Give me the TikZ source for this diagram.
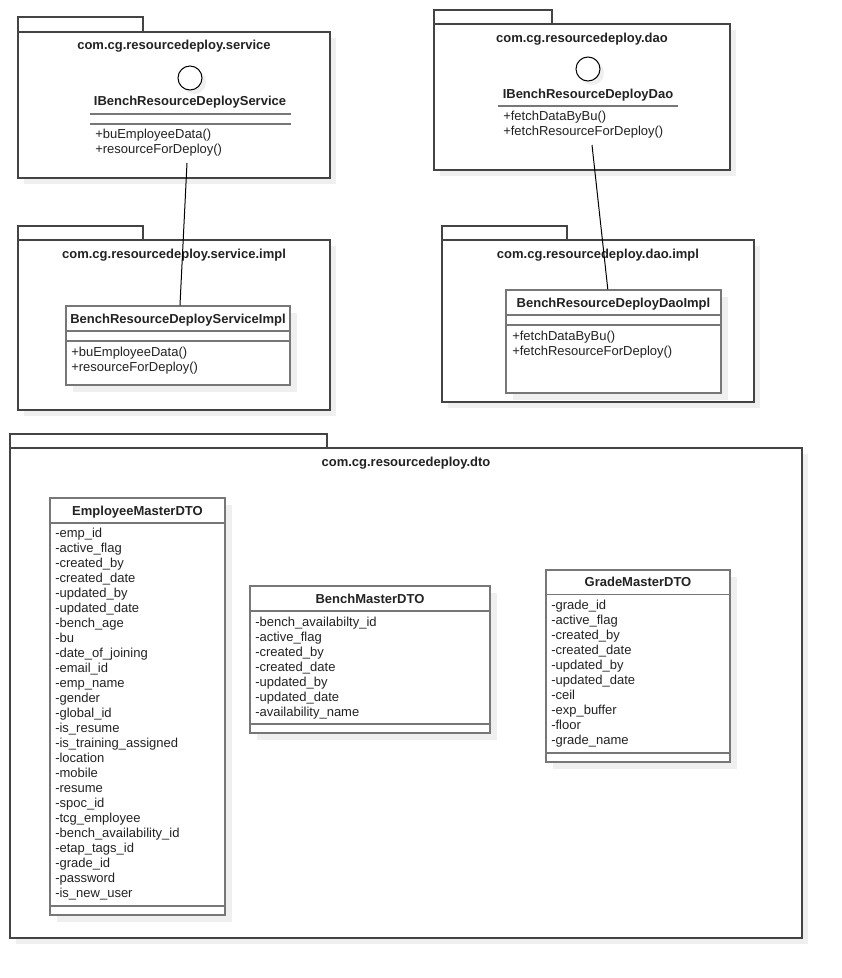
\documentclass[tikz,border=0pt]{standalone}
\usepackage{fontspec}
\setmainfont{Liberation Sans}
\usetikzlibrary{fit,shadows}

\definecolor{pkgline}{HTML}{444444}
\definecolor{clsline}{HTML}{777777}
\definecolor{shadowgray}{HTML}{EFEFEF}
\definecolor{txt}{HTML}{222222}

\newcommand{\umlfont}{\fontsize{9.75pt}{12pt}\selectfont}

\tikzset{
    boxshadow/.style={drop shadow={shadow xshift=#1, shadow yshift=-#1, fill=shadowgray, opacity=1}},
    pkgtab/.style={draw=pkgline, line width=1.1pt, fill=white, inner sep=0pt},
    pkgbody/.style={pkgtab, boxshadow=4.5pt},
    pkgname/.style={font=\umlfont\bfseries, inner sep=0pt, text height=7pt, text depth=2pt, yshift=-1.1pt},
    umlclass/.style={draw=clsline, line width=1.1pt, fill=white, inner sep=0pt, boxshadow=5pt},
    compart/.style={draw=clsline, line width=1.1pt},
    ctitle/.style={font=\umlfont\bfseries, inner sep=0pt, text height=7pt, text depth=2pt, yshift=-1.1pt},
    member/.style={anchor=west, inner sep=0pt, text height=7pt, text depth=2pt, yshift=-1.1pt},
    iface/.style={circle, draw=black, line width=0.75pt, fill=white, inner sep=0pt, minimum size=18pt, boxshadow=3pt},
    link/.style={draw=black, line width=0.75pt}
}

\begin{document}
\begin{tikzpicture}[x=0.75pt, y=-0.75pt, font=\umlfont, every node/.style={text=txt}]
    \fill[white] (0,0) rectangle (842,978);
    \useasboundingbox (0,0) rectangle (842,978);

    % service
    \node[pkgtab, fit={(18,17) (143,32)}] (svc_tab) {};
    \node[pkgbody, fit={(18,32) (330,178)}] (svc_pkg) {};
    \node[pkgname] (svc_name) at (174,45) {com.cg.resourcedeploy.service};
    \node[iface] (isvc) at (190,78) {};
    \node[ctitle] (isvc_name) at (190,101) {IBenchResourceDeployService};
    \draw[compart] (90,114) -- (291,114) (90,124) -- (291,124);
    \node[member] (isvc_m1) at (95,134) {+buEmployeeData()};
    \node[member] (isvc_m2) at (95,149) {+resourceForDeploy()};
    \coordinate (isvc_end) at (187,163);

    % service.impl
    \node[pkgtab, fit={(18,226) (143,240)}] (svci_tab) {};
    \node[pkgbody, fit={(18,240) (330,410)}] (svci_pkg) {};
    \node[pkgname] (svci_name) at (174,254) {com.cg.resourcedeploy.service.impl};
    \node[umlclass, fit={(66,306) (290,385)}] (svc_impl) {};
    \node[ctitle] (svc_impl_name) at (178,318.5) {BenchResourceDeployServiceImpl};
    \draw[compart] (66,331) -- (290,331) (66,341) -- (290,341);
    \node[member] (svc_impl_m1) at (71,352) {+buEmployeeData()};
    \node[member] (svc_impl_m2) at (71,367) {+resourceForDeploy()};

    % dao
    \node[pkgtab, fit={(434,10) (552,24)}] (dao_tab) {};
    \node[pkgbody, fit={(434,24) (730,170)}] (dao_pkg) {};
    \node[pkgname] (dao_name) at (582,38) {com.cg.resourcedeploy.dao};
    \node[iface] (idao) at (588,69) {};
    \node[ctitle] (idao_name) at (588,94) {IBenchResourceDeployDao};
    \draw[compart] (498,106) -- (678,106);
    \node[member] (idao_m1) at (503,116) {+fetchDataByBu()};
    \node[member] (idao_m2) at (503,131) {+fetchResourceForDeploy()};
    \coordinate (idao_end) at (592,145);

    % dao.impl
    \node[pkgtab, fit={(442,226) (567,240)}] (daoi_tab) {};
    \node[pkgbody, fit={(442,240) (754,402)}] (daoi_pkg) {};
    \node[pkgname] (daoi_name) at (598,254) {com.cg.resourcedeploy.dao.impl};
    \node[umlclass, fit={(506,290) (721,393)}] (dao_impl) {};
    \node[ctitle] (dao_impl_name) at (613.5,302.5) {BenchResourceDeployDaoImpl};
    \draw[compart] (506,315) -- (721,315) (506,325) -- (721,325);
    \node[member] (dao_impl_m1) at (512,336) {+fetchDataByBu()};
    \node[member] (dao_impl_m2) at (512,351) {+fetchResourceForDeploy()};

    % dto
    \node[pkgtab, fit={(10,434) (327,448)}] (dto_tab) {};
    \node[pkgbody, fit={(10,448) (802,938)}] (dto_pkg) {};
    \node[pkgname] (dto_name) at (406,462) {com.cg.resourcedeploy.dto};

    \node[umlclass, fit={(50,498) (225,915)}] (emp_dto) {};
    \node[ctitle] (emp_dto_name) at (137.5,510.5) {EmployeeMasterDTO};
    \draw[compart] (50,523) -- (225,523) (50,906) -- (225,906);
    \foreach \f [count=\i from 0] in {emp\_id, active\_flag, created\_by, created\_date,
            updated\_by, updated\_date, bench\_age, bu, date\_of\_joining, email\_id,
            emp\_name, gender, global\_id, is\_resume, is\_training\_assigned, location,
            mobile, resume, spoc\_id, tcg\_employee, bench\_availability\_id,
            etap\_tags\_id, grade\_id, password, is\_new\_user}
        \node[member] (emp_f\i) at (55,533+15*\i) {-\f};

    \node[umlclass, fit={(250,586) (490,733)}] (bench_dto) {};
    \node[ctitle] (bench_dto_name) at (370,598.5) {BenchMasterDTO};
    \draw[compart] (250,611) -- (490,611) (250,724) -- (490,724);
    \foreach \f [count=\i from 0] in {bench\_availabilty\_id, active\_flag, created\_by,
            created\_date, updated\_by, updated\_date, availability\_name}
        \node[member] (bench_f\i) at (255,622+15*\i) {-\f};

    \node[umlclass, fit={(546,570) (730,762)}] (grade_dto) {};
    \node[ctitle] (grade_dto_name) at (638,582) {GradeMasterDTO};
    \draw[compart] (546,594.5) -- (730,594.5) (546,753) -- (730,753);
    \foreach \f [count=\i from 0] in {grade\_id, active\_flag, created\_by, created\_date,
            updated\_by, updated\_date, ceil, exp\_buffer, floor, grade\_name}
        \node[member] (grade_f\i) at (551,605+15*\i) {-\f};

    % links
    \path[link]
        (isvc_end)
            edge (svc_impl)
        (idao_end)
            edge (dao_impl);
\end{tikzpicture}
\end{document}
